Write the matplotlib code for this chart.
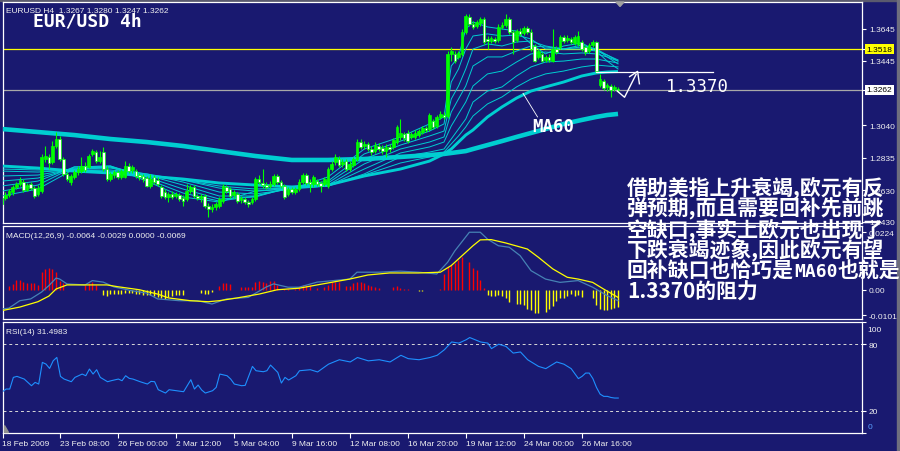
import matplotlib
matplotlib.use("Agg")
import matplotlib.pyplot as plt
import matplotlib.transforms as mtransforms
from matplotlib.patches import Polygon, Rectangle
import numpy as np

plt.rcParams['font.family'] = ['Liberation Sans', 'DejaVu Sans']

# ------------------------------------------------------------------ data (EURUSD H4)
bar_open = [
    1.2543, 1.2580, 1.2599, 1.2618, 1.2650, 1.2669, 1.2681, 1.2631, 1.2669, 1.2643,
    1.2606, 1.2624, 1.2826, 1.2839, 1.2807, 1.2908, 1.2952, 1.2826, 1.2732, 1.2681,
    1.2713, 1.2744, 1.2750, 1.2782, 1.2776, 1.2858, 1.2870, 1.2813, 1.2870, 1.2763,
    1.2700, 1.2725, 1.2744, 1.2713, 1.2713, 1.2782, 1.2757, 1.2750, 1.2725, 1.2719,
    1.2706, 1.2656, 1.2713, 1.2694, 1.2650, 1.2618, 1.2587, 1.2606, 1.2593, 1.2599,
    1.2580, 1.2574, 1.2624, 1.2650, 1.2593, 1.2580, 1.2593, 1.2530, 1.2511, 1.2524,
    1.2530, 1.2561, 1.2650, 1.2637, 1.2599, 1.2606, 1.2568, 1.2574, 1.2555, 1.2555,
    1.2574, 1.2700, 1.2675, 1.2662, 1.2656, 1.2669, 1.2719, 1.2681, 1.2656, 1.2606,
    1.2637, 1.2618, 1.2637, 1.2681, 1.2725, 1.2681, 1.2669, 1.2687, 1.2675, 1.2669,
    1.2656, 1.2763, 1.2807, 1.2826, 1.2795, 1.2813, 1.2763, 1.2788, 1.2826, 1.2933,
    1.2908, 1.2921, 1.2889, 1.2876, 1.2908, 1.2895, 1.2876, 1.2902, 1.2902, 1.2933,
    1.2965, 1.2984, 1.2990, 1.2965, 1.2965, 1.2977, 1.2996, 1.3021, 1.3015, 1.3065,
    1.3034, 1.3091, 1.3103, 1.3097, 1.3488, 1.3488, 1.3469, 1.3488, 1.3626, 1.3721,
    1.3677, 1.3664, 1.3683, 1.3708, 1.3582, 1.3569, 1.3582, 1.3576, 1.3658, 1.3670,
    1.3708, 1.3626, 1.3576, 1.3632, 1.3620, 1.3651, 1.3626, 1.3538, 1.3469, 1.3488,
    1.3450, 1.3469, 1.3443, 1.3519, 1.3532, 1.3595, 1.3576, 1.3582, 1.3557, 1.3551,
    1.3563, 1.3532, 1.3506, 1.3544, 1.3563, 1.3292, 1.3317, 1.3280, 1.3286, 1.3267,
    1.3267]
bar_high = [
    1.2606, 1.2618, 1.2637, 1.2662, 1.2681, 1.2713, 1.2700, 1.2675, 1.2681, 1.2656,
    1.2662, 1.2858, 1.2908, 1.2858, 1.2939, 1.2996, 1.2971, 1.2839, 1.2744, 1.2732,
    1.2757, 1.2782, 1.2839, 1.2807, 1.2858, 1.2889, 1.2883, 1.2876, 1.2902, 1.2782,
    1.2744, 1.2757, 1.2757, 1.2763, 1.2813, 1.2801, 1.2788, 1.2763, 1.2738, 1.2732,
    1.2719, 1.2732, 1.2725, 1.2713, 1.2662, 1.2637, 1.2618, 1.2624, 1.2618, 1.2612,
    1.2599, 1.2669, 1.2662, 1.2662, 1.2606, 1.2606, 1.2606, 1.2549, 1.2543, 1.2555,
    1.2587, 1.2669, 1.2662, 1.2650, 1.2631, 1.2618, 1.2593, 1.2587, 1.2568, 1.2587,
    1.2713, 1.2725, 1.2763, 1.2681, 1.2687, 1.2732, 1.2732, 1.2694, 1.2669, 1.2650,
    1.2650, 1.2650, 1.2700, 1.2738, 1.2738, 1.2700, 1.2725, 1.2700, 1.2687, 1.2713,
    1.2776, 1.2813, 1.2858, 1.2845, 1.2826, 1.2826, 1.2813, 1.2839, 1.2952, 1.2952,
    1.2939, 1.2933, 1.2908, 1.2933, 1.2927, 1.2914, 1.2921, 1.2921, 1.2958, 1.3040,
    1.3078, 1.2996, 1.3009, 1.2996, 1.3009, 1.3015, 1.3034, 1.3034, 1.3116, 1.3078,
    1.3103, 1.3128, 1.3122, 1.3506, 1.3532, 1.3506, 1.3506, 1.3645, 1.3740, 1.3740,
    1.3695, 1.3702, 1.3721, 1.3721, 1.3601, 1.3601, 1.3595, 1.3677, 1.3689, 1.3740,
    1.3721, 1.3639, 1.3645, 1.3651, 1.3664, 1.3664, 1.3645, 1.3551, 1.3519, 1.3500,
    1.3481, 1.3488, 1.3645, 1.3538, 1.3607, 1.3607, 1.3607, 1.3595, 1.3607, 1.3632,
    1.3576, 1.3544, 1.3557, 1.3576, 1.3569, 1.3362, 1.3330, 1.3305, 1.3299, 1.3292,
    1.3280]
bar_low = [
    1.2524, 1.2568, 1.2587, 1.2599, 1.2637, 1.2656, 1.2618, 1.2624, 1.2631, 1.2580,
    1.2593, 1.2612, 1.2807, 1.2763, 1.2795, 1.2895, 1.2813, 1.2719, 1.2687, 1.2662,
    1.2700, 1.2725, 1.2738, 1.2744, 1.2769, 1.2845, 1.2801, 1.2801, 1.2750, 1.2687,
    1.2687, 1.2706, 1.2700, 1.2700, 1.2706, 1.2738, 1.2738, 1.2706, 1.2694, 1.2681,
    1.2650, 1.2643, 1.2669, 1.2656, 1.2580, 1.2574, 1.2555, 1.2574, 1.2580, 1.2561,
    1.2530, 1.2561, 1.2612, 1.2580, 1.2568, 1.2555, 1.2517, 1.2461, 1.2492, 1.2505,
    1.2517, 1.2549, 1.2612, 1.2580, 1.2580, 1.2549, 1.2549, 1.2543, 1.2524, 1.2543,
    1.2561, 1.2669, 1.2643, 1.2637, 1.2643, 1.2656, 1.2669, 1.2643, 1.2574, 1.2593,
    1.2606, 1.2606, 1.2624, 1.2669, 1.2662, 1.2618, 1.2650, 1.2656, 1.2618, 1.2656,
    1.2643, 1.2750, 1.2788, 1.2776, 1.2776, 1.2750, 1.2750, 1.2776, 1.2813, 1.2889,
    1.2889, 1.2876, 1.2851, 1.2864, 1.2876, 1.2858, 1.2839, 1.2870, 1.2889, 1.2921,
    1.2946, 1.2939, 1.2927, 1.2952, 1.2952, 1.2965, 1.2984, 1.2996, 1.3002, 1.3015,
    1.3021, 1.3078, 1.3078, 1.3084, 1.3443, 1.3431, 1.3456, 1.3475, 1.3614, 1.3664,
    1.3645, 1.3651, 1.3664, 1.3551, 1.3519, 1.3557, 1.3557, 1.3563, 1.3645, 1.3658,
    1.3614, 1.3488, 1.3563, 1.3601, 1.3607, 1.3614, 1.3506, 1.3437, 1.3456, 1.3437,
    1.3437, 1.3437, 1.3437, 1.3488, 1.3519, 1.3557, 1.3563, 1.3551, 1.3544, 1.3538,
    1.3506, 1.3481, 1.3494, 1.3532, 1.3368, 1.3280, 1.3262, 1.3254, 1.3217, 1.3254,
    1.3247]
bar_close = [
    1.2580, 1.2599, 1.2624, 1.2650, 1.2669, 1.2694, 1.2631, 1.2662, 1.2643, 1.2593,
    1.2643, 1.2839, 1.2845, 1.2801, 1.2908, 1.2952, 1.2826, 1.2732, 1.2700, 1.2719,
    1.2744, 1.2763, 1.2782, 1.2757, 1.2845, 1.2876, 1.2813, 1.2839, 1.2763, 1.2700,
    1.2732, 1.2744, 1.2713, 1.2750, 1.2782, 1.2750, 1.2776, 1.2719, 1.2713, 1.2700,
    1.2656, 1.2700, 1.2681, 1.2669, 1.2593, 1.2587, 1.2606, 1.2587, 1.2606, 1.2574,
    1.2561, 1.2624, 1.2650, 1.2593, 1.2580, 1.2593, 1.2530, 1.2511, 1.2524, 1.2543,
    1.2574, 1.2656, 1.2624, 1.2593, 1.2618, 1.2561, 1.2580, 1.2555, 1.2543, 1.2574,
    1.2700, 1.2681, 1.2662, 1.2650, 1.2669, 1.2719, 1.2681, 1.2656, 1.2587, 1.2637,
    1.2618, 1.2637, 1.2681, 1.2725, 1.2675, 1.2669, 1.2713, 1.2669, 1.2656, 1.2700,
    1.2763, 1.2795, 1.2839, 1.2788, 1.2807, 1.2763, 1.2795, 1.2826, 1.2933, 1.2902,
    1.2921, 1.2889, 1.2870, 1.2914, 1.2889, 1.2876, 1.2902, 1.2889, 1.2946, 1.3028,
    1.2990, 1.2958, 1.2939, 1.2984, 1.2990, 1.3002, 1.3021, 1.3009, 1.3103, 1.3028,
    1.3091, 1.3110, 1.3091, 1.3488, 1.3506, 1.3443, 1.3494, 1.3626, 1.3727, 1.3677,
    1.3658, 1.3689, 1.3708, 1.3563, 1.3569, 1.3588, 1.3569, 1.3658, 1.3670, 1.3708,
    1.3626, 1.3563, 1.3632, 1.3614, 1.3651, 1.3626, 1.3519, 1.3443, 1.3506, 1.3443,
    1.3469, 1.3450, 1.3519, 1.3500, 1.3595, 1.3569, 1.3588, 1.3563, 1.3595, 1.3601,
    1.3519, 1.3500, 1.3544, 1.3563, 1.3380, 1.3330, 1.3273, 1.3292, 1.3262, 1.3280,
    1.3262]

# moving averages read at these bar positions
ma_bars = [0, 10, 20, 30, 40, 50, 60, 70, 80, 90, 100, 110, 118, 122, 124, 126, 128,
           130, 134, 138, 142, 146, 150, 155, 160, 164, 167, 170]
ma_fan_1 = [1.2593, 1.2637, 1.2763, 1.2776, 1.2687, 1.2587, 1.2555, 1.2624, 1.2637, 1.2713,
            1.2889, 1.2965, 1.3047, 1.3091, 1.3412, 1.3469, 1.3645, 1.3689, 1.3658, 1.3645,
            1.3632, 1.3551, 1.3488, 1.3538, 1.3557, 1.3506, 1.3443, 1.3393]
ma_fan_2 = [1.2624, 1.2662, 1.2776, 1.2782, 1.2700, 1.2612, 1.2561, 1.2593, 1.2650, 1.2687,
            1.2858, 1.2939, 1.3002, 1.3047, 1.3311, 1.3393, 1.3519, 1.3601, 1.3614, 1.3601,
            1.3607, 1.3582, 1.3519, 1.3519, 1.3544, 1.3519, 1.3469, 1.3425]
ma_fan_3 = [1.2656, 1.2687, 1.2776, 1.2782, 1.2713, 1.2637, 1.2574, 1.2587, 1.2650, 1.2675,
            1.2826, 1.2914, 1.2971, 1.3002, 1.3204, 1.3286, 1.3393, 1.3519, 1.3551, 1.3538,
            1.3563, 1.3569, 1.3538, 1.3519, 1.3532, 1.3519, 1.3481, 1.3443]
ma_fan_4 = [1.2687, 1.2706, 1.2769, 1.2776, 1.2725, 1.2662, 1.2593, 1.2593, 1.2643, 1.2662,
            1.2795, 1.2889, 1.2933, 1.2965, 1.3122, 1.3204, 1.3286, 1.3412, 1.3469, 1.3469,
            1.3506, 1.3538, 1.3532, 1.3519, 1.3519, 1.3506, 1.3481, 1.3450]
ma_fan_5 = [1.2719, 1.2725, 1.2763, 1.2769, 1.2732, 1.2681, 1.2618, 1.2606, 1.2637, 1.2656,
            1.2763, 1.2864, 1.2902, 1.2933, 1.3034, 1.3110, 1.3185, 1.3286, 1.3362, 1.3380,
            1.3437, 1.3488, 1.3500, 1.3488, 1.3494, 1.3488, 1.3469, 1.3443]
ma_fan_6 = [1.2750, 1.2744, 1.2757, 1.2757, 1.2732, 1.2694, 1.2643, 1.2624, 1.2643, 1.2656,
            1.2732, 1.2839, 1.2870, 1.2889, 1.2952, 1.3015, 1.3078, 1.3185, 1.3254, 1.3280,
            1.3349, 1.3406, 1.3437, 1.3443, 1.3456, 1.3456, 1.3443, 1.3431]
ma_fan_7 = [1.2763, 1.2757, 1.2757, 1.2750, 1.2725, 1.2694, 1.2656, 1.2637, 1.2643, 1.2656,
            1.2725, 1.2801, 1.2839, 1.2870, 1.2921, 1.2971, 1.3028, 1.3097, 1.3173, 1.3217,
            1.3280, 1.3330, 1.3362, 1.3380, 1.3406, 1.3418, 1.3412, 1.3406]
ma_60 = [1.2782, 1.2769, 1.2750, 1.2738, 1.2719, 1.2700, 1.2675, 1.2662, 1.2650, 1.2662,
         1.2719, 1.2763, 1.2813, 1.2858, 1.2889, 1.2933, 1.2977, 1.3009, 1.3091, 1.3154,
         1.3210, 1.3254, 1.3280, 1.3311, 1.3349, 1.3368, 1.3374, 1.3377]
ma_slow = [1.3015, 1.2996, 1.2977, 1.2952, 1.2933, 1.2908, 1.2876, 1.2845, 1.2820, 1.2820,
           1.2826, 1.2839, 1.2851, 1.2858, 1.2864, 1.2870, 1.2876, 1.2889, 1.2914, 1.2939,
           1.2965, 1.2990, 1.3015, 1.3047, 1.3072, 1.3091, 1.3103, 1.3110]

# MACD(12,26,9)
macd_bars = [0, 2, 5, 8, 11, 13, 15, 16, 18, 23, 25, 28, 31, 36, 40, 43, 49, 54, 58, 62,
             68, 73, 75, 79, 82, 87, 96, 98, 104, 110, 115, 120, 123, 125, 129, 132, 134,
             137, 140, 143, 146, 150, 154, 159, 163, 167, 170]
macd_line = [-0.0077, -0.0073, -0.0044, -0.0037, -0.0010, 0.0015, 0.0045, 0.0041, 0.0022,
             0.0018, 0.0035, 0.0029, 0.0010, -0.0005, -0.0014, -0.0037, -0.0044, -0.0044,
             -0.0057, -0.0037, -0.0031, 0.0010, 0.0022, 0.0009, 0.0009, 0.0029, 0.0041,
             0.0068, 0.0068, 0.0072, 0.0068, 0.0061, 0.0107, 0.0152, 0.0225, 0.0225, 0.0198,
             0.0172, 0.0166, 0.0133, 0.0074, 0.0041, 0.0028, 0.0035, 0.0009, -0.0024, -0.0044]
signal_bars = [0, 5, 10, 13, 15, 18, 24, 29, 32, 38, 43, 46, 52, 57, 60, 65, 71, 76, 82, 87,
               96, 101, 107, 115, 121, 124, 127, 130, 132, 135, 139, 145, 148, 152, 156, 159,
               163, 166, 170]
signal_line = [-0.0083, -0.0069, -0.0048, -0.0026, 0.0002, 0.0018, 0.0018, 0.0018, 0.0011,
               -0.0001, -0.0018, -0.0033, -0.0044, -0.0048, -0.0044, -0.0033, -0.0018, -0.0001,
               0.0005, 0.0018, 0.0041, 0.0057, 0.0065, 0.0065, 0.0068, 0.0094, 0.0133, 0.0172,
               0.0195, 0.0196, 0.0183, 0.0159, 0.0127, 0.0081, 0.0048, 0.0041, 0.0028, 0.0002,
               -0.0031]
macd_hist = [
    -0.0002, -0.0002, 0.0012, 0.0022, 0.0037, 0.0039, 0.0028, 0.0024, 0.0024, 0.0024,
    0.0016, 0.0067, 0.0079, 0.0086, 0.0079, 0.0067, 0.0035, 0.0024, 0.0, -0.0002,
    -0.0002, 0.0, 0.0, 0.0016, 0.0024, 0.0028, 0.0016, 0.0, -0.0022, -0.0027,
    -0.0018, -0.0018, -0.0018, -0.0018, -0.0014, -0.0014, -0.0014, -0.0018, -0.0018, -0.0022,
    -0.0022, -0.0022, -0.0027, -0.0031, -0.0035, -0.0038, -0.0031, -0.0024, -0.0022, -0.0020,
    -0.0022, 0.0, 0.0, -0.0002, 0.0, -0.0014, -0.0018, -0.0018, -0.0011, 0.0,
    0.0012, 0.0024, 0.0024, 0.0020, 0.0, 0.0, 0.0008, 0.0008, 0.0008, 0.0008,
    0.0029, 0.0035, 0.0028, 0.0024, 0.0035, 0.0034, 0.0016, 0.0, 0.0002, 0.0002,
    0.0, 0.0002, 0.0010, 0.0016, 0.0016, 0.0016, 0.0, 0.0006, 0.0, 0.0011,
    0.0018, 0.0028, 0.0031, 0.0028, 0.0, 0.0015, 0.0013, 0.0024, 0.0028, 0.0031,
    0.0025, 0.0018, 0.0012, 0.0009, 0.0007, -0.0002, 0.0, 0.0, 0.0009, 0.0013,
    0.0006, 0.0002, 0.0002, 0.0, -0.0002, -0.0007, -0.0007, 0.0, 0.0, -0.0002,
    0.0, 0.0002, 0.0059, 0.0089, 0.0095, 0.0105, 0.0115, 0.0129, 0.0, 0.0109,
    0.0085, 0.0076, 0.0039, 0.0007, -0.0022, -0.0025, -0.0025, -0.0022, -0.0025, -0.0033,
    -0.0048, 0.0, -0.0055, -0.0055, -0.0059, -0.0075, -0.0081, -0.0092, -0.0094, 0.0,
    -0.0088, -0.0075, -0.0064, -0.0046, -0.0033, -0.0035, -0.0025, -0.0016, -0.0025, -0.0022,
    -0.0029, 0.0, 0.0, -0.0035, -0.0059, -0.0077, -0.0081, -0.0081, -0.0075, -0.0072,
    -0.0069]

# RSI(14)
rsi_bars = [0, 1, 2, 3, 4, 6, 8, 9, 10, 11, 12, 13, 14, 15, 16, 17, 19, 20, 22, 23,
            24, 25, 26, 27, 29, 30, 32, 33, 34, 35, 36, 38, 40, 41, 42, 43, 45, 46, 48, 50,
            52, 53, 54, 55, 56, 58, 59, 60, 62, 63, 64, 66, 67, 69, 70, 72, 73, 74, 76, 77,
            78, 79, 81, 82, 85, 87, 90, 93, 96, 98, 101, 104, 107, 110, 112, 115, 118, 120,
            122, 124, 126, 128, 129, 132, 134, 135, 137, 139, 141, 143, 145, 148, 150, 153,
            155, 157, 159, 160, 161, 162, 163, 164, 165, 166, 167, 168, 169, 170]
rsi_vals = [37.2, 39.6, 39.6, 50.1, 51.0, 48.6, 42.6, 45.6, 44.1, 63.6, 62.1, 58.2, 65.1,
            68.1, 51.0, 48.6, 46.2, 50.1, 53.1, 51.6, 57.6, 53.1, 57.0, 50.1, 46.2, 47.1,
            48.6, 47.1, 51.6, 49.2, 48.6, 46.2, 44.1, 46.5, 46.2, 39.0, 36.0, 39.0, 38.1,
            37.2, 48.0, 39.6, 43.2, 38.7, 36.0, 38.1, 41.1, 53.1, 51.6, 48.6, 44.1, 42.6,
            42.9, 60.0, 56.1, 55.2, 56.1, 61.2, 54.6, 45.0, 50.1, 47.7, 51.6, 56.1, 57, 55,
            62, 66, 64, 68, 65, 66, 64, 70, 67, 66, 68, 70, 75, 82, 81, 84, 86, 82, 81, 76,
            80, 78, 72, 73, 66, 60, 58, 64, 62, 58, 49, 51, 54, 54, 49, 41, 35, 33, 33, 32,
            31.5, 31.5]

price_ticks = [1.3645, 1.3445, 1.3040, 1.2835, 1.2630, 1.2430]
yellow_level = 1.3518
last_price = 1.3262
ma60_target = 1.3377
ma60_target_text = "1.3370"
macd_ticks = [0.0224, 0.0, -0.0101]
macd_tick_labels = ["0.0224", "0.00", "-0.0101"]
rsi_levels = [80, 20]
time_tick_bars = [0, 16, 32, 48, 64, 80, 96, 112, 128, 144, 160]
time_tick_labels = ["18 Feb 2009", "23 Feb 08:00", "26 Feb 00:00", "2 Mar 12:00",
                    "5 Mar 04:00", "9 Mar 16:00", "12 Mar 08:00", "16 Mar 20:00",
                    "19 Mar 12:00", "24 Mar 00:00", "26 Mar 16:00"]
note_lines = ["借助美指上升衰竭,欧元有反", "弹预期,而且需要回补先前跳",
              "空缺口,事实上欧元也出现了", "下跌衰竭迹象,因此欧元有望",
              "回补缺口也恰巧是MA60也就是", "1.3370的阻力"]
# hand-drawn annotations (bar index, price)
pointer_x = [143.8, 147.8]
pointer_y = [1.3240, 1.3091]
tick_mark_x = [169.8, 171.8, 175.0]
tick_mark_y = [1.3254, 1.3215, 1.3360]
arrow_head_x = [173.2, 175.4, 175.9]
arrow_head_y = [1.3345, 1.3378, 1.3300]
ma60_line_x = [163.8, 196.3]

# ------------------------------------------------------------------ figure
BG = '#191970'
W, H = 900, 452
XMIN, XMAX = 0.22, 237.3
fig = plt.figure(figsize=(9, 4.52), dpi=100, facecolor=BG)


def rect(left, top, right, bottom):
    return [left / W, 1 - bottom / H, (right - left) / W, (bottom - top) / H]


def panel(top, bottom):
    ax = fig.add_axes(rect(2.5, top, 862, bottom))
    ax.set_facecolor(BG)
    for s in ax.spines.values():
        s.set_color('white')
        s.set_linewidth(0.9)
    ax.yaxis.tick_right()
    ax.tick_params(axis='y', colors='white', labelcolor='#F0F0F0', length=3, width=0.8,
                   pad=2, labelsize=6)
    ax.tick_params(axis='x', bottom=False, labelbottom=False)
    ax.set_xlim(XMIN, XMAX)
    return ax


ax_main = panel(3, 224)
ax_macd = panel(227, 320)
ax_rsi = panel(323, 434)

TEAL = '#00CED1'

# ---- main price panel
ax_main.set_ylim(1.2423, 1.3815)
ax_main.axhline(yellow_level, color='#FFFF00', lw=0.9, zorder=2)
ax_main.axhline(last_price, color='#A8A8A8', lw=0.9, zorder=2)

ax_main.plot(ma_bars, ma_slow, color=TEAL, lw=3.3, zorder=3, solid_capstyle='butt')
for fan in [ma_fan_1, ma_fan_2, ma_fan_3, ma_fan_4, ma_fan_5, ma_fan_6, ma_fan_7]:
    ax_main.plot(ma_bars, fan, color=TEAL, lw=0.7, zorder=3)
ax_main.plot(ma_bars, ma_60, color=TEAL, lw=2.1, zorder=3, solid_capstyle='butt')

o = np.array(bar_open)
h = np.array(bar_high)
l = np.array(bar_low)
c = np.array(bar_close)
xb = np.arange(len(c))
up = c >= o
ax_main.vlines(xb, l, h, color='#00FF00', lw=0.8, zorder=4)
ax_main.bar(xb[up], (c - o)[up], bottom=o[up], width=0.72, color='#00FF00',
            edgecolor='#00FF00', lw=0.5, zorder=5)
ax_main.bar(xb[~up], (o - c)[~up], bottom=c[~up], width=0.72, facecolor='white',
            edgecolor='#00FF00', lw=0.5, zorder=5)

# annotations
ax_main.plot(ma60_line_x, [ma60_target, ma60_target], color='white', lw=0.9, zorder=6)
ax_main.plot(pointer_x, pointer_y, color='white', lw=0.6, zorder=6)
ax_main.plot(tick_mark_x, tick_mark_y, color='white', lw=1.0, zorder=6)
ax_main.plot(arrow_head_x, arrow_head_y, color='white', lw=1.0, zorder=6)

main_ticks = price_ticks + [yellow_level, last_price]
ax_main.set_yticks(main_ticks)
ax_main.set_yticklabels([f"{v:.4f}" for v in price_ticks] + ["", ""])
tr_main = mtransforms.blended_transform_factory(ax_main.transAxes, ax_main.transData)
ax_main.text(1.0055, yellow_level, f"{yellow_level:.4f}", transform=tr_main, ha='left',
             va='center', fontsize=6, color='black', clip_on=False, zorder=10,
             bbox=dict(boxstyle='square,pad=0.18', fc='#FFFF00', ec='none'))
ax_main.text(1.0055, last_price, f"{last_price:.4f}", transform=tr_main, ha='left',
             va='center', fontsize=6, color='black', clip_on=False, zorder=10,
             bbox=dict(boxstyle='square,pad=0.18', fc='white', ec='none'))

# ---- MACD panel
ax_macd.set_ylim(-0.01159, 0.02495)
hist = np.array(macd_hist)
xh = np.arange(len(hist))
ax_macd.vlines(xh, 0, hist, colors=np.where(hist >= 0, '#FF0000', '#FFFF00'), lw=1.0, zorder=2)
ax_macd.plot(macd_bars, macd_line, color='#4682B4', lw=0.9, zorder=3)
ax_macd.plot(signal_bars, signal_line, color='#FFFF00', lw=0.9, zorder=3)
ax_macd.set_yticks(macd_ticks)
ax_macd.set_yticklabels(macd_tick_labels)

# ---- RSI panel
ax_rsi.set_ylim(0, 100)
for lev in rsi_levels:
    ax_rsi.axhline(lev, color='#D8D8D8', lw=0.7, ls=(0, (3, 3)), zorder=1)
ax_rsi.plot(rsi_bars, rsi_vals, color='#1E90FF', lw=0.8, zorder=3)
ax_rsi.set_yticks([100] + rsi_levels + [0])
ax_rsi.set_yticklabels([""] + [str(v) for v in rsi_levels] + [""])
tr_rsi = mtransforms.blended_transform_factory(ax_rsi.transAxes, ax_rsi.transData)
ax_rsi.text(1.006, 93.5, "100", transform=tr_rsi, ha='left', va='center', fontsize=6,
            color='#F0F0F0', clip_on=False)
ax_rsi.text(1.006, 5.5, "0", transform=tr_rsi, ha='left', va='center', fontsize=6,
            color='#5AA0FF', clip_on=False)
ax_rsi.set_xticks(time_tick_bars)
ax_rsi.set_xticklabels(time_tick_labels, ha='left')
ax_rsi.tick_params(axis='x', bottom=True, labelbottom=True, length=3.5, width=0.8,
                   colors='white', labelcolor='#F0F0F0', labelsize=6, pad=1.5)

# ---- frame details
fig.add_artist(Rectangle((0, 1 - 1.5 / H), 1, 1.5 / H, transform=fig.transFigure,
                         color='#5A5A6E', zorder=0))
fig.add_artist(Rectangle((896.5 / W, 0), 3.5 / W, 1, transform=fig.transFigure,
                         color='#6E6E7E', zorder=0))
fig.add_artist(Polygon([[616 / W, 1 - 3 / H], [624 / W, 1 - 3 / H], [620 / W, 1 - 7.5 / H]],
                       closed=True, transform=fig.transFigure, color='#A0A0A0', zorder=5))
fig.add_artist(Polygon([[3.5 / W, 1 - 426 / H], [3.5 / W, 1 - 433 / H], [8 / W, 1 - 433 / H]],
                       closed=True, transform=fig.transFigure, color='#909090', zorder=5))

# ---- texts
def ftext(x, y, s, **kw):
    fig.text(x / W, 1 - y / H, s, **kw)


ftext(6, 11.5, "EURUSD H4  1.3267 1.3280 1.3247 1.3262", fontsize=6, color='#F0F0F0',
      va='center', ha='left', zorder=20)
ftext(6, 236.5, "MACD(12,26,9) -0.0064 -0.0029 0.0000 -0.0069", fontsize=6, color='#F0F0F0',
      va='center', ha='left', zorder=20)
ftext(6, 332.5, "RSI(14) 31.4983", fontsize=6, color='#F0F0F0', va='center', ha='left',
      zorder=20)
ftext(33, 21.5, "EUR/USD 4h", fontsize=13, family='DejaVu Sans Mono', weight='bold',
      color='white', va='center', ha='left', zorder=20)
ftext(666, 86.5, ma60_target_text, fontsize=12.5, family='DejaVu Sans Mono', color='white',
      va='center', ha='left', zorder=20)
ftext(532, 127, "MA60", fontsize=12.5, family='DejaVu Sans Mono', weight='bold',
      color='white', va='center', ha='left', zorder=20)

CJK = ['Noto Sans CJK SC', 'DejaVu Sans']
CJK_SIZE = 15
EM = CJK_SIZE * 100 / 72          # full-width glyph advance in pixels
line_y = [188, 209, 230, 250, 271.5, 292]
for s, yy in zip(note_lines, line_y):
    if "MA60" in s:
        head, tail = s.split("MA60")
        x0 = 627
        ftext(x0, yy, head, fontsize=CJK_SIZE, family=CJK, weight='bold', color='white',
              va='center', ha='left', zorder=30)
        x1 = x0 + len(head) * EM
        ftext(x1 + 1, yy + 0.5, "MA60", fontsize=13, family='DejaVu Sans Mono', weight='bold',
              color='white', va='center', ha='left', zorder=30)
        x2 = x1 + 44
        ftext(x2, yy, tail, fontsize=CJK_SIZE, family=CJK, weight='bold', color='white',
              va='center', ha='left', zorder=30)
    else:
        ftext(627, yy, s, fontsize=CJK_SIZE, family=CJK, weight='bold', color='white',
              va='center', ha='left', zorder=30)

fig.savefig('out.png', dpi=100, facecolor=BG)
